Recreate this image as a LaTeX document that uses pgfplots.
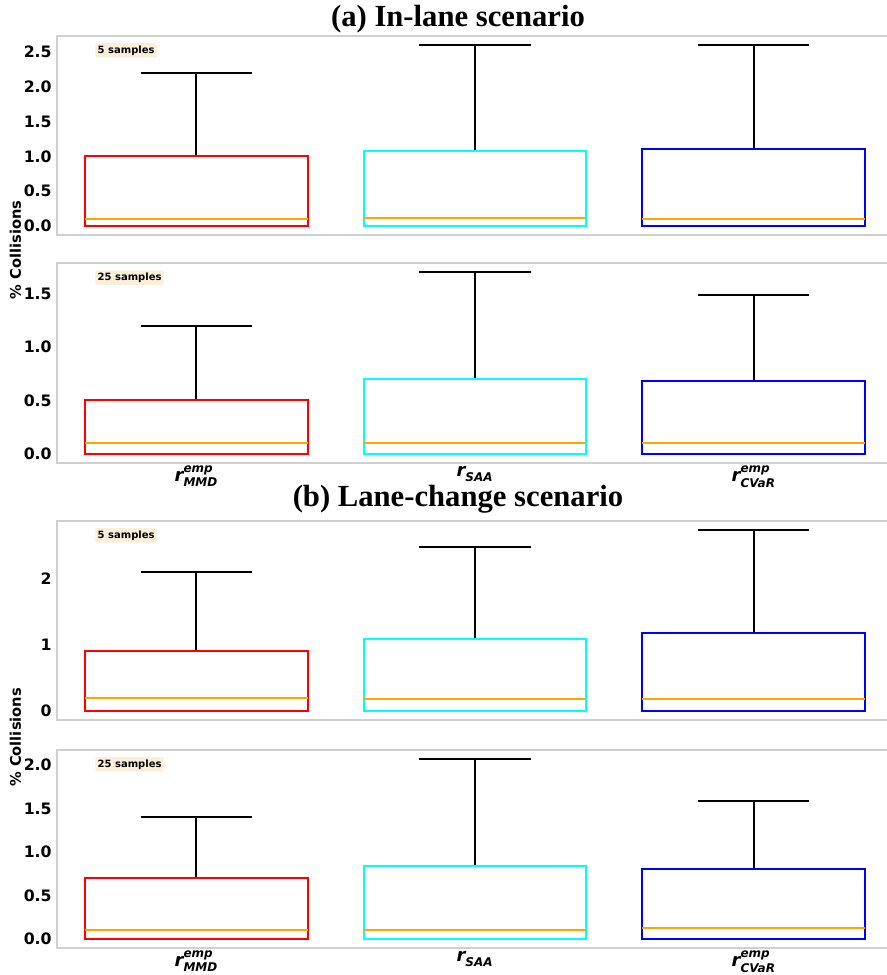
\documentclass[border=0pt]{standalone}
\usepackage{fontspec}
\setmainfont{DejaVu Sans}
\newfontfamily\titlefont{Liberation Serif}
\usepackage{amsmath}
\usepackage{pgfplots}
\usepgfplotslibrary{statistics}
\pgfplotsset{compat=1.18}
\definecolor{wheatbox}{HTML}{FAEFD9}
\definecolor{framegray}{HTML}{D0D0D0}
\definecolor{medorange}{HTML}{FFA500}
\definecolor{cred}{RGB}{255,0,0}
\definecolor{ccyan}{RGB}{0,255,255}
\definecolor{cblue}{RGB}{0,0,255}
\newcommand{\rlab}[2]{\fontsize{13.5}{14}\selectfont\bfseries\itshape r$^{\text{\fontsize{9}{9}\selectfont\bfseries\itshape #1}}_{\text{\fontsize{9}{9}\selectfont\bfseries\itshape #2}}$}
\pgfplotsset{
  panel/.style={
    scale only axis, width=627pt,
    xmin=0.5, xmax=3.5, xtick={1,2,3}, xticklabels={},
    axis line style={draw=framegray, line width=0.8pt},
    major tick length=0pt, tick style={draw=none},
    /pgf/number format/assume math mode=true,
    yticklabel style={font=\fontsize{11.8}{13}\selectfont\bfseries, inner sep=0pt, xshift=-3.8pt,
      /pgf/number format/.cd, fixed, fixed zerofill, precision=1},
    xticklabel style={inner sep=0pt, yshift=-2pt},
    boxplot/draw direction=y,
    boxplot/box extend=0.8,
    boxplot/whisker extend=0.4,
    boxplot/every median/.style={draw=medorange, line width=1.5pt},
    boxplot/every whisker/.style={draw=black, line width=1.5pt},
    anchor=north west,
  },
}
\tikzset{
  samp/.style={fill=wheatbox, rounded corners=1.5pt, inner sep=1.8pt, anchor=north west,
    font=\fontsize{7.5}{8.5}\selectfont\bfseries},
}
\newcommand{\bx}[7]{\addplot[draw=#1, line width=1.5pt, boxplot prepared={draw position=#2, lower whisker=#3, lower quartile=#4, median=#5, upper quartile=#6, upper whisker=#7}] coordinates {};}
\begin{document}
\begin{tikzpicture}
% (a) 5 samples
\begin{axis}[panel, at={(42.75pt,-27pt)}, height=149.25pt, ymin=-0.13, ymax=2.73,
  ytick={0,0.5,1,1.5,2,2.5}]
\bx{cred}{1}{0}{0}{0.1}{1.0}{2.2}
\bx{ccyan}{2}{0}{0}{0.11}{1.08}{2.6}
\bx{cblue}{3}{0}{0}{0.1}{1.1}{2.6}
\node[samp] at (rel axis cs:0.0455,0.965) {5 samples};
\end{axis}
% (a) 25 samples
\begin{axis}[panel, at={(42.75pt,-197.25pt)}, height=150pt, ymin=-0.085, ymax=1.785,
  ytick={0,0.5,1,1.5},
  xticklabels={\rlab{emp}{MMD},\rlab{}{SAA},\rlab{emp}{CVaR}}]
\bx{cred}{1}{0}{0}{0.1}{0.5}{1.2}
\bx{ccyan}{2}{0}{0}{0.1}{0.7}{1.7}
\bx{cblue}{3}{0}{0}{0.1}{0.68}{1.49}
\node[samp] at (rel axis cs:0.0455,0.965) {25 samples};
\end{axis}
% (b) 5 samples
\begin{axis}[panel, at={(42.75pt,-390.75pt)}, height=149.25pt, ymin=-0.137, ymax=2.867,
  ytick={0,1,2}, yticklabel style={/pgf/number format/precision=0}]
\bx{cred}{1}{0}{0}{0.2}{0.9}{2.1}
\bx{ccyan}{2}{0}{0}{0.18}{1.08}{2.47}
\bx{cblue}{3}{0}{0}{0.18}{1.17}{2.73}
\node[samp] at (rel axis cs:0.0455,0.965) {5 samples};
\end{axis}
% (b) 25 samples
\begin{axis}[panel, at={(42.75pt,-562.5pt)}, height=148.5pt, ymin=-0.1035, ymax=2.1735,
  ytick={0,0.5,1,1.5,2},
  xticklabels={\rlab{emp}{MMD},\rlab{}{SAA},\rlab{emp}{CVaR}}]
\bx{cred}{1}{0}{0}{0.1}{0.7}{1.4}
\bx{ccyan}{2}{0}{0}{0.1}{0.84}{2.07}
\bx{cblue}{3}{0}{0}{0.125}{0.81}{1.59}
\node[samp] at (rel axis cs:0.0455,0.965) {25 samples};
\end{axis}
\node[anchor=base, font=\titlefont\bfseries\fontsize{23}{24}\selectfont] at (343.5pt,-19.5pt) {(a) In-lane scenario};
\node[anchor=base, font=\titlefont\bfseries\fontsize{23}{24}\selectfont] at (343.5pt,-379.5pt) {(b) Lane-change scenario};
\node[rotate=90, font=\fontsize{11}{12}\selectfont\bfseries] at (11.5pt,-187.5pt) {\% Collisions};
\node[rotate=90, font=\fontsize{11}{12}\selectfont\bfseries] at (11.5pt,-553pt) {\% Collisions};
\pgfresetboundingbox
\path[use as bounding box] (0,0) rectangle (664.5pt,-731.25pt);
\end{tikzpicture}
\end{document}
